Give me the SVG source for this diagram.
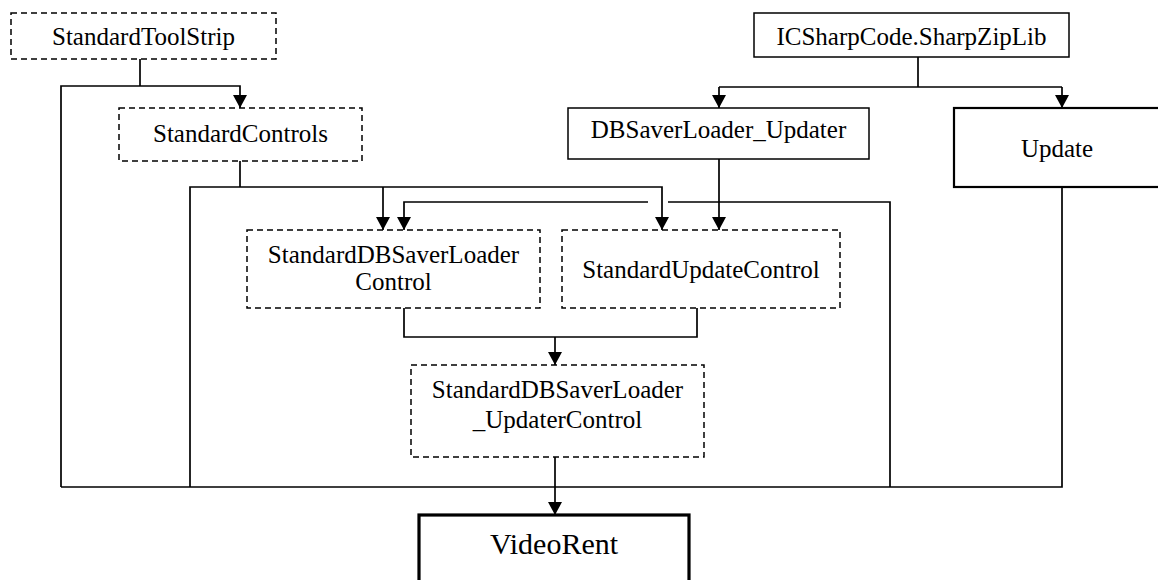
<svg xmlns="http://www.w3.org/2000/svg" width="1158" height="580" viewBox="0 0 1158 580">
<style>
.n{fill:#fff;stroke:#000;stroke-width:1.5}
.d{stroke-dasharray:6 4}
.t{font-family:"Liberation Serif","Times New Roman",serif;font-size:25px;fill:#000;text-anchor:middle}
.c{fill:none;stroke:#000;stroke-width:1.7}
</style>
<defs>
<marker id="a" markerWidth="13" markerHeight="14" refX="13" refY="7" orient="auto" markerUnits="userSpaceOnUse" viewBox="0 0 13 14">
<path d="M0,0 L13,7 L0,14 z" fill="#000"/>
</marker>
</defs>
<rect width="1158" height="580" fill="#fff"/>
<g id="connectors">
<path class="c" d="M140,59 V86"/>
<path class="c" d="M61,487 V86 H240 V108" marker-end="url(#a)"/>
<path class="c" d="M240,161 V187"/>
<path class="c" d="M190,487 V187 H662 V230" marker-end="url(#a)"/>
<path class="c" d="M383,187 V230" marker-end="url(#a)"/>
<path class="c" d="M890,487 V202 H668"/>
<path class="c" d="M648,202 H404 V230" marker-end="url(#a)"/>
<path class="c" d="M918,57 V87"/>
<path class="c" d="M719,87 H1062"/>
<path class="c" d="M719,87 V108" marker-end="url(#a)"/>
<path class="c" d="M1062,87 V108" marker-end="url(#a)"/>
<path class="c" d="M719,159 V230" marker-end="url(#a)"/>
<path class="c" d="M1062,187 V487 H61"/>
<path class="c" d="M404,308 V337 H697 V308"/>
<path class="c" d="M555,337 V365" marker-end="url(#a)"/>
<path class="c" d="M555,457 V515" marker-end="url(#a)"/>
</g>
<g id="StandardToolStrip">
<rect class="n d" x="11" y="13" width="265" height="46"/>
<text class="t" x="143.5" y="45">StandardToolStrip</text>
</g>
<g id="StandardControls">
<rect class="n d" x="119" y="108" width="243" height="53"/>
<text class="t" x="240.5" y="142">StandardControls</text>
</g>
<g id="ICSharpCode.SharpZipLib">
<rect class="n" x="754" y="13" width="315" height="44"/>
<text class="t" x="911.5" y="45">ICSharpCode.SharpZipLib</text>
</g>
<g id="DBSaverLoader_Updater">
<rect class="n" x="568" y="108" width="301" height="51"/>
<text class="t" x="718.5" y="138">DBSaverLoader_Updater</text>
</g>
<g id="Update">
<rect class="n" x="954" y="108" width="210" height="79" style="stroke-width:2.2"/>
<text class="t" x="1057" y="157">Update</text>
</g>
<g id="StandardDBSaverLoaderControl">
<rect class="n d" x="247" y="230" width="293" height="78"/>
<text class="t" x="393.5" y="263">StandardDBSaverLoader</text>
<text class="t" x="393.5" y="290">Control</text>
</g>
<g id="StandardUpdateControl">
<rect class="n d" x="562" y="230" width="278" height="78"/>
<text class="t" x="701" y="278">StandardUpdateControl</text>
</g>
<g id="StandardDBSaverLoader_UpdaterControl">
<rect class="n d" x="411" y="365" width="293" height="92"/>
<text class="t" x="557.5" y="398">StandardDBSaverLoader</text>
<text class="t" x="557.5" y="428">_UpdaterControl</text>
</g>
<g id="VideoRent">
<rect x="419" y="515" width="270" height="80" fill="#fff" stroke="#000" stroke-width="3.2"/>
<text class="t" x="554" y="554" style="font-size:30px">VideoRent</text>
</g>
</svg>
